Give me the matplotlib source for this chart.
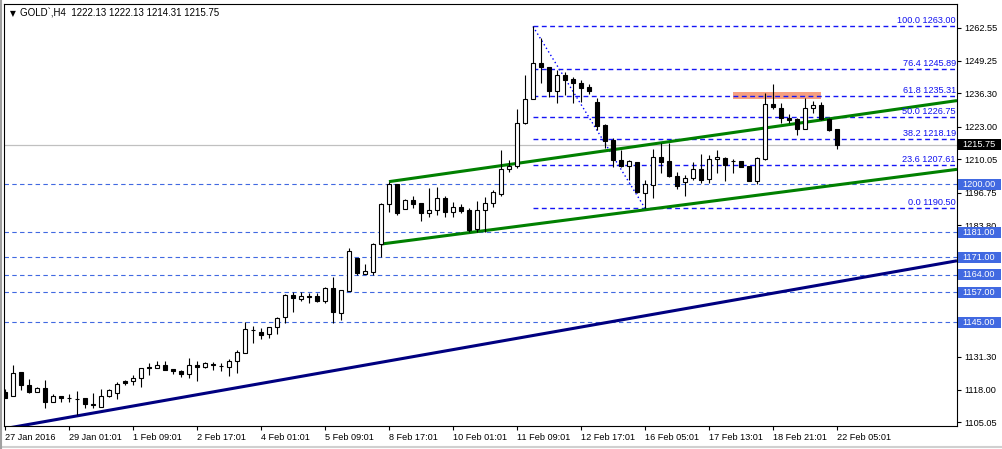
import numpy as np
import matplotlib
matplotlib.use('Agg')
import matplotlib.pyplot as plt
from matplotlib.patches import Rectangle
from matplotlib.lines import Line2D

plt.rcParams['font.family'] = ['Liberation Sans', 'DejaVu Sans']
FS = 6.6

# H4 candles, GOLD, 27 Jan 2016 .. 22 Feb 2016
opens = [1117.1, 1115.7, 1125.1, 1120.0, 1117.1, 1118.7, 1113.3, 1115.5, 1114.9, 1114.5,
         1114.8, 1112.5, 1111.3, 1115.7, 1116.7, 1121.6, 1121.5, 1122.7, 1127.0, 1126.9,
         1127.8, 1126.4, 1125.6, 1124.3, 1127.8, 1127.0, 1128.4, 1127.6, 1127.3, 1129.6,
         1132.6, 1141.9, 1141.2, 1140.2, 1143.2, 1147.0, 1155.9, 1154.3, 1155.5, 1155.5,
         1153.6, 1158.6, 1148.8, 1157.6, 1170.5, 1164.4, 1165.2, 1176.1, 1192.2, 1200.2,
         1190.1, 1193.8, 1192.5, 1188.5, 1189.7, 1194.5, 1188.9, 1190.9, 1189.8, 1182.1,
         1189.7, 1192.5, 1196.2, 1206.0, 1207.3, 1224.4, 1234.0, 1248.3, 1246.7, 1237.4,
         1243.6, 1241.9, 1240.6, 1238.7, 1233.0, 1223.7, 1217.7, 1209.7, 1207.5, 1208.8,
         1196.7, 1199.8, 1210.9, 1209.3, 1203.5, 1200.8, 1202.4, 1206.1, 1202.0, 1210.0,
         1210.4, 1209.3, 1209.3, 1207.3, 1201.5, 1210.1, 1232.1, 1230.4, 1226.6, 1226.0,
         1222.0, 1230.4, 1231.7, 1226.0, 1222.13]
highs = [1118.4, 1128.0, 1125.3, 1122.4, 1119.1, 1122.0, 1116.3, 1115.5, 1116.3, 1117.7,
         1114.8, 1116.7, 1118.3, 1118.3, 1121.1, 1122.0, 1123.9, 1126.8, 1128.9, 1129.6,
         1129.6, 1126.4, 1126.0, 1130.9, 1129.6, 1129.3, 1129.3, 1128.9, 1130.2, 1133.9,
         1145.3, 1143.5, 1142.8, 1143.3, 1147.2, 1156.1, 1157.2, 1157.2, 1156.8, 1156.8,
         1159.2, 1162.9, 1157.8, 1174.5, 1170.6, 1168.1, 1176.8, 1192.7, 1201.1, 1200.2,
         1194.1, 1195.4, 1192.5, 1198.5, 1199.1, 1195.4, 1193.1, 1192.2, 1190.5, 1193.4,
         1195.1, 1197.8, 1213.7, 1209.7, 1230.0, 1243.6, 1263.0, 1258.3, 1247.0, 1245.6,
         1245.0, 1243.0, 1241.7, 1239.9, 1234.4, 1224.0, 1218.4, 1213.7, 1209.7, 1208.9,
         1201.8, 1214.0, 1216.6, 1216.6, 1205.0, 1203.8, 1209.1, 1212.1, 1211.7, 1213.7,
         1210.9, 1210.0, 1209.5, 1207.5, 1211.1, 1236.3, 1240.1, 1232.4, 1228.1, 1226.4,
         1234.4, 1233.3, 1233.0, 1226.4, 1222.13]
lows = [1114.7, 1115.5, 1118.0, 1116.7, 1117.0, 1110.9, 1113.3, 1113.1, 1113.3, 1108.0,
        1110.9, 1110.9, 1111.3, 1115.3, 1114.5, 1120.0, 1120.1, 1119.1, 1124.1, 1126.8,
        1126.0, 1124.4, 1123.3, 1122.9, 1121.7, 1126.7, 1126.0, 1125.6, 1123.7, 1124.9,
        1132.6, 1136.6, 1138.2, 1138.9, 1140.3, 1144.6, 1149.0, 1153.6, 1152.6, 1153.2,
        1152.8, 1144.8, 1145.9, 1157.5, 1163.9, 1164.3, 1163.9, 1171.2, 1189.1, 1187.8,
        1190.0, 1190.5, 1185.5, 1187.1, 1187.7, 1187.1, 1187.1, 1188.5, 1181.1, 1181.1,
        1181.1, 1190.9, 1195.4, 1205.1, 1206.4, 1224.1, 1233.9, 1240.6, 1235.0, 1232.4,
        1235.7, 1232.4, 1233.0, 1236.1, 1221.7, 1214.4, 1207.1, 1207.1, 1201.8, 1196.5,
        1190.5, 1194.5, 1204.7, 1203.1, 1198.1, 1195.2, 1201.8, 1200.4, 1200.4, 1204.7,
        1201.2, 1204.7, 1206.9, 1201.2, 1200.2, 1209.7, 1230.0, 1224.6, 1224.6, 1219.7,
        1221.9, 1228.6, 1225.7, 1221.4, 1214.31]
closes = [1114.9, 1124.7, 1120.0, 1117.1, 1118.7, 1113.3, 1115.7, 1114.7, 1114.95, 1114.4,
          1112.3, 1111.9, 1115.7, 1117.9, 1120.3, 1120.8, 1122.7, 1126.7, 1126.7, 1127.8,
          1126.1, 1125.5, 1124.3, 1127.8, 1127.0, 1128.9, 1127.8, 1127.55, 1129.6, 1133.0,
          1142.2, 1141.95, 1139.9, 1143.2, 1146.6, 1155.9, 1154.6, 1155.5, 1155.0, 1153.6,
          1158.6, 1149.2, 1157.8, 1173.4, 1164.5, 1165.5, 1176.1, 1192.2, 1200.2, 1188.7,
          1193.8, 1192.2, 1188.5, 1189.7, 1194.5, 1188.9, 1190.9, 1189.5, 1181.8, 1189.7,
          1192.5, 1197.1, 1206.0, 1207.3, 1224.4, 1234.0, 1248.3, 1246.7, 1237.4, 1243.6,
          1241.7, 1240.3, 1238.6, 1237.4, 1223.4, 1217.4, 1209.7, 1207.5, 1209.3, 1196.9,
          1200.0, 1211.1, 1209.1, 1203.5, 1199.5, 1202.4, 1206.1, 1201.9, 1210.0, 1210.8,
          1207.9, 1209.35, 1207.1, 1201.5, 1210.4, 1232.0, 1231.0, 1226.4, 1225.7, 1222.0,
          1230.4, 1231.7, 1226.0, 1221.7, 1215.75]

tick_bars = list(range(0, 105, 8))
tick_labels = ['27 Jan 2016', '29 Jan 01:01', '1 Feb 09:01', '2 Feb 17:01', '4 Feb 01:01',
               '5 Feb 09:01', '8 Feb 17:01', '10 Feb 01:01', '11 Feb 09:01', '12 Feb 17:01',
               '16 Feb 05:01', '17 Feb 13:01', '18 Feb 21:01', '22 Feb 05:01']
price_ticks = [1262.55, 1249.25, 1236.30, 1223.00, 1210.05, 1196.75, 1183.80,
               1170.50, 1157.55, 1144.25, 1131.30, 1118.00, 1105.05]
# labels of these ticks sit fully under the level boxes
hidden_ticks = [1170.50, 1157.55, 1144.25]

levels = [1200.00, 1181.00, 1171.00, 1164.00, 1157.00, 1145.00]
fibo_pct = [100.0, 76.4, 61.8, 50.0, 38.2, 23.6, 0.0]
fibo_price = [1263.00, 1245.89, 1235.31, 1226.75, 1218.19, 1207.61, 1190.50]
fibo_start, fibo_end = 66, 80

# trend lines: (bar, price) anchor pairs
upper_channel = [(48, 1201.1), (104, 1226.6)]
lower_channel = [(47, 1176.2), (104, 1199.8)]
long_trend = [(0, 1102.6), (104, 1161.1)]
zone = {'x0': 91, 'x1': 102, 'lo': 1234.0, 'hi': 1237.0}
last_price = 1215.75

W, H = 1002, 449
fig = plt.figure(figsize=(W / 100, H / 100), dpi=100)
ax = fig.add_axes([4 / W, 1 - 426 / H, 953 / W, 422 / H])
x_max = 119
ax.set_xlim(-0.125, x_max)
ax.set_ylim(1103.63, 1271.96)

o = np.array(opens); h = np.array(highs); l = np.array(lows); c = np.array(closes)
x = np.arange(len(o))
bull = c >= o

# background objects
ax.axhline(last_price, color='#C0C0C0', lw=0.9, zorder=1)
for lv in levels:
    ax.axhline(lv, color='#4169E1', lw=0.8, dashes=(4, 3), zorder=1)
for lv in fibo_price:
    ax.plot([fibo_start, x_max], [lv, lv], color='#1515F5', lw=1.0,
            dashes=(3.5, 2.5), zorder=1.5, snap=True)
ax.plot([fibo_start, fibo_end], [fibo_price[0], fibo_price[-1]], color='#0000FF',
        lw=1.0, dashes=(1, 2), zorder=1)
ax.add_patch(Rectangle((zone['x0'], zone['lo']), zone['x1'] - zone['x0'],
                       zone['hi'] - zone['lo'], fc='#F6A080', ec='none', zorder=0.5))


def ray(pts, color):
    (x0, y0), (x1, y1) = pts
    k = (y1 - y0) / (x1 - x0)
    xs = np.array([x0, x_max])
    ax.plot(xs, y0 + k * (xs - x0), color=color, lw=2.2, zorder=2,
            solid_capstyle='butt')


ray(upper_channel, '#008000')
ray(lower_channel, '#008000')
ray(long_trend, '#000080')

# candles
ax.vlines(x, l, h, color='black', lw=0.8, zorder=3)
body = np.maximum(np.abs(c - o), 0.02)
ax.bar(x, body, bottom=np.minimum(o, c), width=0.6,
       color=np.where(bull, 'white', 'black'), edgecolor='black', lw=0.8, zorder=4)

# fibo labels
for pct, lv in zip(fibo_pct, fibo_price):
    ax.text(118.85, lv + 0.4, f'{pct:.1f} {lv:.2f}', ha='right', va='bottom',
            color='#1010F0', fontsize=FS, zorder=5)

# axes style
for s in ax.spines.values():
    s.set_color('black')
    s.set_linewidth(0.8)
ax.yaxis.tick_right()
ax.set_yticks(price_ticks)
ax.set_yticklabels(['' if p in hidden_ticks else f'{p:.2f}' for p in price_ticks])
ax.tick_params(axis='y', length=3, width=0.8, pad=2, labelsize=FS, colors='black')
ax.set_xticks(tick_bars)
ax.set_xticklabels(tick_labels)
ax.tick_params(axis='x', length=3, width=0.8, pad=2, labelsize=FS)
for t in ax.get_xticklabels():
    t.set_ha('left')

# right-axis price boxes
tr = ax.get_yaxis_transform()
box_h = 4.4
for lv in levels:
    ax.add_patch(Rectangle((1.001, lv - box_h / 2), 0.045, box_h, transform=tr,
                           fc='#4169E1', ec='none', clip_on=False, zorder=6))
    ax.text(1.0055, lv, f'{lv:.2f}', transform=tr, color='white', fontsize=FS,
            va='center', ha='left', zorder=7, clip_on=False)
ax.add_patch(Rectangle((1.001, last_price - box_h / 2), 0.045, box_h, transform=tr,
                       fc='black', ec='none', clip_on=False, zorder=6))
ax.text(1.0055, last_price, f'{last_price:.2f}', transform=tr, color='white',
        fontsize=FS, va='center', ha='left', zorder=7, clip_on=False)

# header
fig.text(10 / W, 1 - 14 / H, '▼', fontsize=5.5, va='center', ha='left',
         family='DejaVu Sans')
fig.text(20 / W, 1 - 14 / H,
         f"GOLD`,H4  {opens[-1]:.2f} {highs[-1]:.2f} {lows[-1]:.2f} {closes[-1]:.2f}",
         fontsize=FS + 0.4, va='center', ha='left')

# window frame
fig.add_artist(Line2D([0, 1], [1 - 446.5 / H] * 2, color='#D0D0D0', lw=1.5))
fig.add_artist(Line2D([1 / W] * 2, [0, 1], color='#A0A0A0', lw=1.5))

fig.savefig('out.png', dpi=100)
